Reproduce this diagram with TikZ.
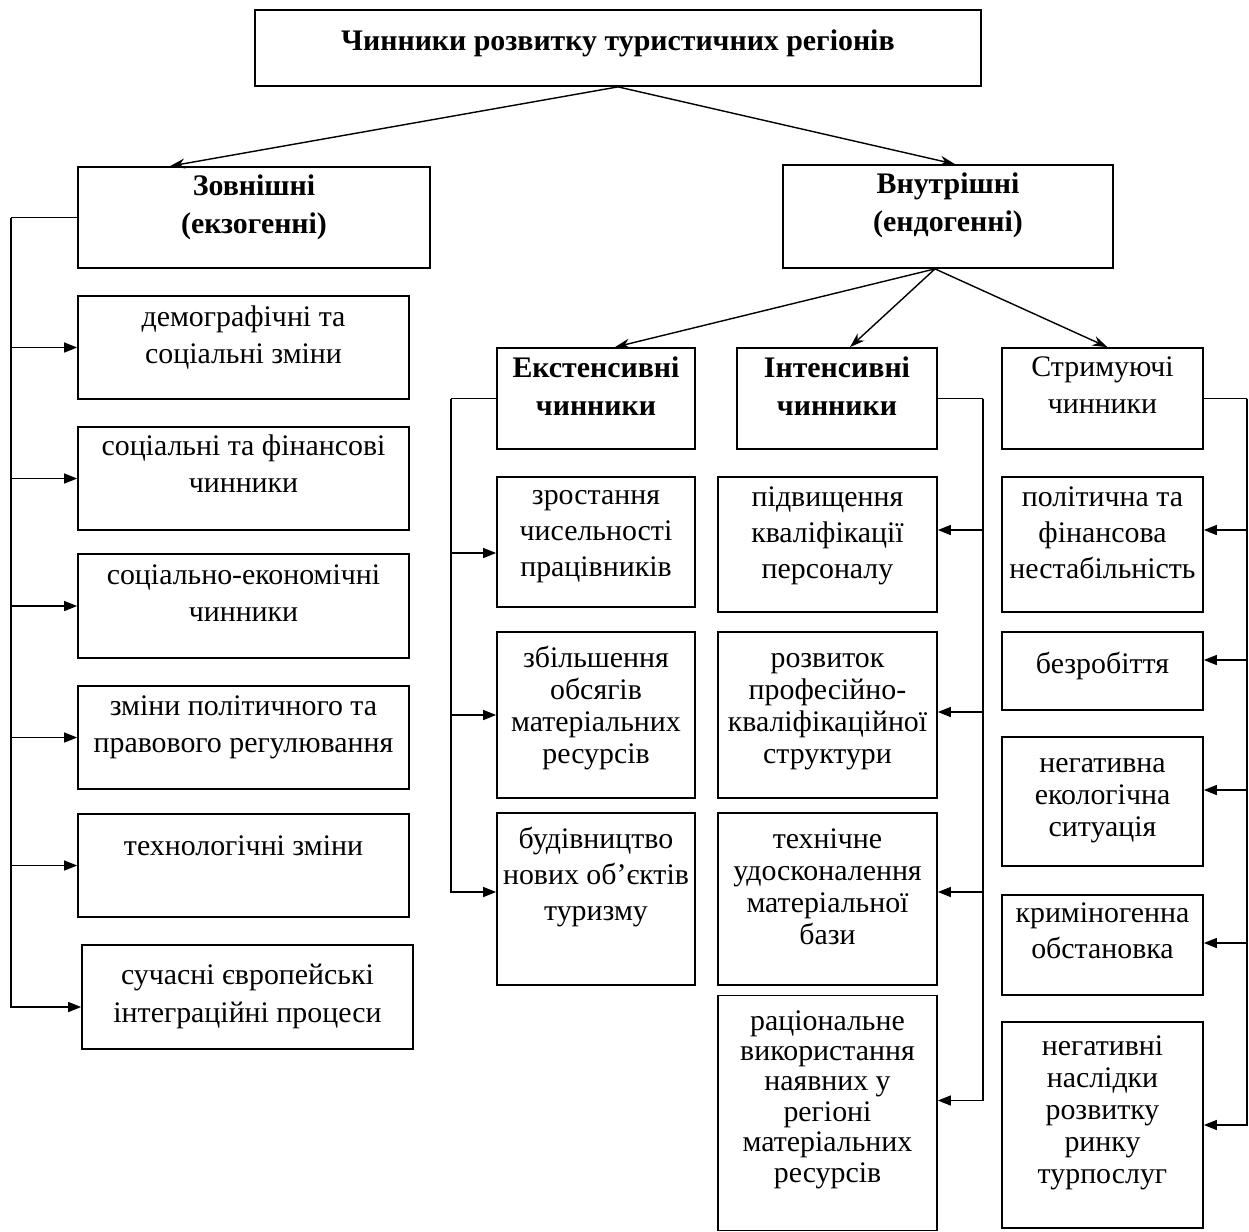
\documentclass[tikz,border=0pt]{standalone}
\usepackage{fontspec}
\setmainfont{Liberation Serif}
\usetikzlibrary{arrows.meta,positioning}

\begin{document}
\begin{tikzpicture}[
        x=0.02cm, y=-0.02cm,
        box/.style={draw=black, line width=1pt, inner sep=0pt},
        lbox/.style={box, minimum width=6.62cm, minimum height=2.07cm},
        ebox/.style={box, minimum width=3.96cm},
        ibox/.style={box, minimum width=4.38cm},
        sbox/.style={box, minimum width=4.02cm},
        txt/.style={anchor=north, align=center, inner sep=0pt, font=\fontsize{17}{21.5}\selectfont},
        mid/.style={font=\fontsize{17}{20.5}\selectfont},
        tight/.style={font=\fontsize{17}{18.2}\selectfont},
        tighter/.style={font=\fontsize{17}{17.3}\selectfont},
        head/.style={txt, font=\fontsize{17}{22}\selectfont\bfseries},
        conn/.style={line width=0.8pt, draw=black},
        arr/.style={conn, -{Triangle[length=0.26cm, width=0.2cm]}},
        darr/.style={conn, -{Stealth[length=0.3cm, width=0.2cm]}}
    ]

    \useasboundingbox (0,0) rectangle (1249,1232);

    % top level
    \node[box, minimum width=14.52cm, minimum height=1.52cm] (title) at (618,48) {};
    \node[head] (titlet) at (618,29) {Чинники розвитку туристичних регіонів};

    \node[box, minimum width=7.04cm, minimum height=2.02cm] (zov) at (254,217.5) {};
    \node[head] (zovt) at (254,174) {Зовнішні\\(екзогенні)};
    \node[box, minimum width=6.6cm, minimum height=2.06cm] (vnu) at (948,216.5) {};
    \node[head] (vnut) at (948,172) {Внутрішні\\(ендогенні)};

    \draw[darr] (title.south) -- ([xshift=-1.68cm]zov.north);
    \draw[darr] (title.south) -- ([xshift=0.14cm]vnu.north);

    % external factors
    \node[lbox] (l1) at (243.5,347.5) {};
    \node[txt] (l1t) at (243.5,305) {демографічні та\\соціальні зміни};
    \node[lbox] (l2) at (243.5,478.5) {};
    \node[txt] (l2t) at (243.5,434) {соціальні та фінансові\\чинники};
    \node[lbox] (l3) at (243.5,606) {};
    \node[txt] (l3t) at (243.5,564) {соціально-економічні\\чинники};
    \node[lbox] (l4) at (243.5,737.5) {};
    \node[txt] (l4t) at (243.5,695) {зміни політичного та\\правового регулювання};
    \node[lbox] (l5) at (243.5,865.5) {};
    \node[txt] (l5t) at (243.5,835) {технологічні зміни};
    \node[lbox] (l6) at (247.5,997) {};
    \node[txt] (l6t) at (247.5,964) {сучасні європейські\\інтеграційні процеси};

    \draw[conn] (zov.west) -- ++(-66,0) coordinate (lbus);
    \foreach \n in {l1,l2,l3,l4,l5}
        \draw[arr] (lbus |- \n.west) -- (\n.west);
    \draw[arr] (lbus) |- ([yshift=-0.2cm]l6.west);

    % internal factors: second level
    \node[ebox, minimum height=2.02cm] (ext) at (596,398.5) {};
    \node[head] (extt) at (596,356) {Екстенсивні\\чинники};
    \node[box, minimum width=4cm, minimum height=2.02cm] (int) at (837,398.5) {};
    \node[head] (intt) at (837,356) {Інтенсивні\\чинники};
    \node[sbox, minimum height=2.02cm] (str) at (1102.5,398.5) {};
    \node[txt] (strt) at (1102.5,356) {Стримуючі\\чинники};

    \draw[darr] ([xshift=-0.26cm]vnu.south) -- ([xshift=0.38cm]ext.north);
    \draw[darr] ([xshift=-0.26cm]vnu.south) -- ([xshift=0.26cm]int.north);
    \draw[darr] ([xshift=-0.26cm]vnu.south) -- ([xshift=0.1cm]str.north);

    % extensive
    \node[ebox, minimum height=2.6cm] (e1) at (596,542) {};
    \node[txt, mid] (e1t) at (596,490) {зростання\\чисельності\\працівників};
    \node[ebox, minimum height=3.32cm] (e2) at (596,715) {};
    \node[txt, tight] (e2t) at (596,646) {збільшення\\обсягів\\матеріальних\\ресурсів};
    \node[ebox, minimum height=3.44cm] (e3) at (596,899) {};
    \node[txt, mid] (e3t) at (596,827) {будівництво\\нових об’єктів\\туризму};

    \draw[conn] (ext.west) -- ++(-45,0) coordinate (ebus);
    \foreach \n/\d in {e1/-0.22,e2/0}{
        \path ([yshift=\d cm]\n.west) coordinate (tip);
        \draw[arr] (ebus |- tip) -- (tip);
    }
    \draw[arr] (ebus) |- ([yshift=0.14cm]e3.west);

    % intensive
    \node[ibox, minimum height=2.7cm] (i1) at (827.5,544.5) {};
    \node[txt, mid] (i1t) at (827.5,486) {підвищення\\кваліфікації\\персоналу};
    \node[ibox, minimum height=3.32cm] (i2) at (827.5,715) {};
    \node[txt, tight] (i2t) at (827.5,653) {розвиток\\професійно-\\кваліфікаційної\\структури};
    \node[ibox, minimum height=3.44cm] (i3) at (827.5,899) {};
    \node[txt, tight] (i3t) at (827.5,828) {технічне\\удосконалення\\матеріальної\\бази};
    \node[ibox, minimum height=4.7cm] (i4) at (827.5,1113) {};
    \node[txt, tighter] (i4t) at (827.5,1010) {раціональне\\використання\\наявних у\\регіоні\\матеріальних\\ресурсів};

    \draw[conn] (int.east) -- ++(45,0) coordinate (ibus);
    \foreach \n/\d in {i1/0.29,i2/0.06,i3/0.14}{
        \path ([yshift=\d cm]\n.east) coordinate (tip);
        \draw[arr] (ibus |- tip) -- (tip);
    }
    \draw[arr] (ibus) |- ([yshift=0.25cm]i4.east);

    % restraining
    \node[sbox, minimum height=2.7cm] (s1) at (1102.5,544.5) {};
    \node[txt, mid] (s1t) at (1102.5,486) {політична та\\фінансова\\нестабільність};
    \node[sbox, minimum height=1.56cm] (s2) at (1102.5,671) {};
    \node[txt] (s2t) at (1102.5,652) {безробіття};
    \node[sbox, minimum height=2.58cm] (s3) at (1102.5,801.5) {};
    \node[txt, tight] (s3t) at (1102.5,758) {негативна\\екологічна\\ситуація};
    \node[sbox, minimum height=2cm] (s4) at (1102.5,945) {};
    \node[txt, mid] (s4t) at (1102.5,902) {криміногенна\\обстановка};
    \node[sbox, minimum height=4.12cm] (s5) at (1102.5,1125) {};
    \node[txt, tight] (s5t) at (1102.5,1035) {негативні\\наслідки\\розвитку\\ринку\\турпослуг};

    \draw[conn] (str.east) -- ++(43,0) coordinate (sbus);
    \foreach \n/\d in {s1/0.29,s2/0.22,s3/0.23,s4/0.04}{
        \path ([yshift=\d cm]\n.east) coordinate (tip);
        \draw[arr] (sbus |- tip) -- (tip);
    }
    \draw[arr] (sbus) |- (s5.east);
\end{tikzpicture}
\end{document}
